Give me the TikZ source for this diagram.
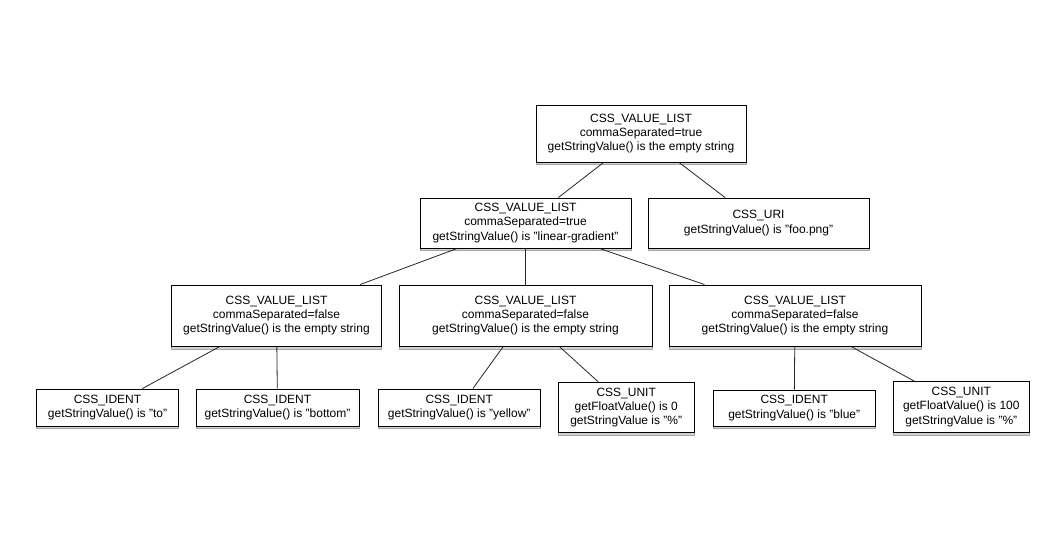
\documentclass[tikz,border=0pt]{standalone}
\usepackage{fontspec}
\setmainfont{Liberation Sans}
\usetikzlibrary{shadows}
\begin{document}
\begin{tikzpicture}[x=1pt,y=-1pt,
  box/.style={draw=black, line width=0.9pt, fill=white, inner sep=0pt, align=center,
    font=\fontsize{12}{14.2}\selectfont,
    general shadow={fill=gray!35, draw=gray!70, line width=0.7pt, shadow yshift=-2.8pt}},
  link/.style={draw=black!85, line width=0.8pt}]
\useasboundingbox (0,0) rectangle (1041,536);
\node[box, minimum width=210pt, minimum height=57pt] (top) at (641,133.5)
  {CSS\_VALUE\_LIST\\commaSeparated=true\\getStringValue() is the empty string};
\node[box, minimum width=211pt, minimum height=50pt] (lin) at (525.5,223)
  {CSS\_VALUE\_LIST\\commaSeparated=true\\getStringValue() is "linear-gradient"};
\node[box, minimum width=221pt, minimum height=50pt] (uri) at (758.5,223)
  {CSS\_URI\\getStringValue() is "foo.png"};
\node[box, minimum width=210pt, minimum height=61.5pt] (la) at (276.5,315.7)
  {CSS\_VALUE\_LIST\\commaSeparated=false\\getStringValue() is the empty string};
\node[box, minimum width=253pt, minimum height=61.5pt] (lb) at (525.5,315.7)
  {CSS\_VALUE\_LIST\\commaSeparated=false\\getStringValue() is the empty string};
\node[box, minimum width=252pt, minimum height=61.5pt] (lc) at (795,315.7)
  {CSS\_VALUE\_LIST\\commaSeparated=false\\getStringValue() is the empty string};
\node[box, minimum width=141.6pt, minimum height=37pt] (to) at (107.5,407.5)
  {CSS\_IDENT\\getStringValue() is "to"};
\node[box, minimum width=163pt, minimum height=37pt] (bottom) at (277.5,407.5)
  {CSS\_IDENT\\getStringValue() is "bottom"};
\node[box, minimum width=161.7pt, minimum height=37pt] (yellow) at (459.2,407.5)
  {CSS\_IDENT\\getStringValue() is "yellow"};
\node[box, minimum width=135.7pt, minimum height=50pt] (unitz) at (626.2,407.3)
  {CSS\_UNIT\\getFloatValue() is 0\\getStringValue is "\%"};
\node[box, minimum width=161.7pt, minimum height=36pt] (blue) at (794.2,408)
  {CSS\_IDENT\\getStringValue() is "blue"};
\node[box, minimum width=136pt, minimum height=50.6pt] (unith) at (961.3,407)
  {CSS\_UNIT\\getFloatValue() is 100\\getStringValue is "\%"};
\draw[link] (top) -- (lin);
\draw[link] (top) -- (uri);
\draw[link] (lin) -- (la);
\draw[link] (lin) -- (lb);
\draw[link] (lin) -- (lc);
\draw[link] (la) -- (to);
\draw[link] (la) -- (bottom);
\draw[link] (lb) -- (yellow);
\draw[link] (lb) -- (unitz);
\draw[link] (lc) -- (blue);
\draw[link] (lc) -- (unith);
\end{tikzpicture}
\end{document}
